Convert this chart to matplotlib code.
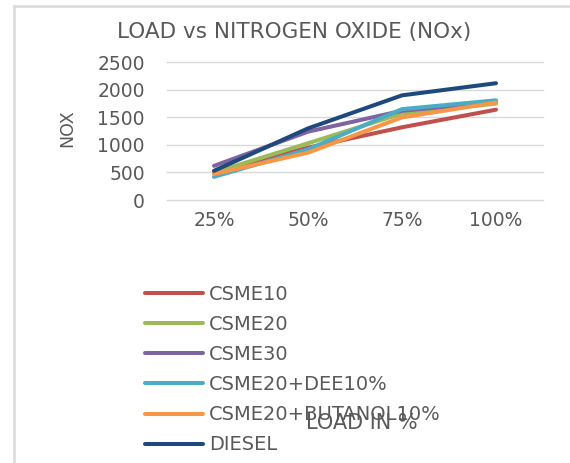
import matplotlib.pyplot as plt
from matplotlib.lines import Line2D

loads = ['25%', '50%', '75%', '100%']
csme10 = [510, 950, 1320, 1640]
csme20 = [500, 1030, 1570, 1750]
csme30 = [620, 1240, 1620, 1780]
csme20_dee = [420, 920, 1650, 1810]
csme20_butanol = [470, 860, 1500, 1770]
diesel = [530, 1300, 1900, 2120]

names = ['CSME10', 'CSME20', 'CSME30', 'CSME20+DEE10%', 'CSME20+BUTANOL10%', 'DIESEL']
series = [csme10, csme20, csme30, csme20_dee, csme20_butanol, diesel]
colors = ['#C0504D', '#9BBB59', '#8064A2', '#4BACC6', '#F79646', '#1F497D']

grey = '#595959'
plt.rcParams['font.family'] = ['DejaVu Sans']

W, H = 570, 463
fig = plt.figure(figsize=(W / 100, H / 100), dpi=100)

# chart border (left and top edges visible)
fig.add_artist(Line2D([14 / W, 14 / W], [0, 1 - 6 / H], color='#d9d9d9', lw=1.8))
fig.add_artist(Line2D([14 / W, 1.01], [1 - 6 / H, 1 - 6 / H], color='#d9d9d9', lw=1.8))

ax = fig.add_axes([167 / W, 1 - 200 / H, 376 / W, 137.7 / H])
x = range(len(loads))
for name, vals, c in zip(names, series, colors):
    ax.plot(x, vals, color=c, lw=2.9, solid_capstyle='round', label=name)

ax.set_xlim(-0.5, 3.5)
ax.set_ylim(0, 2500)
ax.set_yticks(range(0, 2501, 500))
ax.set_xticks(list(x))
ax.set_xticklabels(loads)
ax.grid(axis='y', color='#d9d9d9', lw=1)
for gl in ax.get_ygridlines():
    gl.set_clip_on(False)
ax.set_axisbelow(True)
for s in ax.spines.values():
    s.set_visible(False)
ax.tick_params(length=0, colors=grey, labelsize=13.5)
ax.tick_params(axis='y', pad=16)
ax.tick_params(axis='x', pad=8)

fig.text(294 / W, 1 - 32 / H, 'LOAD vs NITROGEN OXIDE (NOx)', ha='center', va='center',
         color=grey, fontsize=15.5)
fig.text(67 / W, 1 - 128 / H, 'NOX', rotation=90, ha='center', va='center',
         color=grey, fontsize=12.5)

handles, labels = ax.get_legend_handles_labels()
fig.legend(handles, labels, loc='upper left', bbox_to_anchor=(145 / W, 1 - 285 / H),
           frameon=False, fontsize=14, handlelength=3.0, handletextpad=0.3,
           labelspacing=0.57, borderpad=0, borderaxespad=0, labelcolor=grey)

fig.text(362 / W, 1 - 423 / H, 'LOAD IN %', ha='center', va='center',
         color=grey, fontsize=15)

fig.savefig('out.png', dpi=100)
